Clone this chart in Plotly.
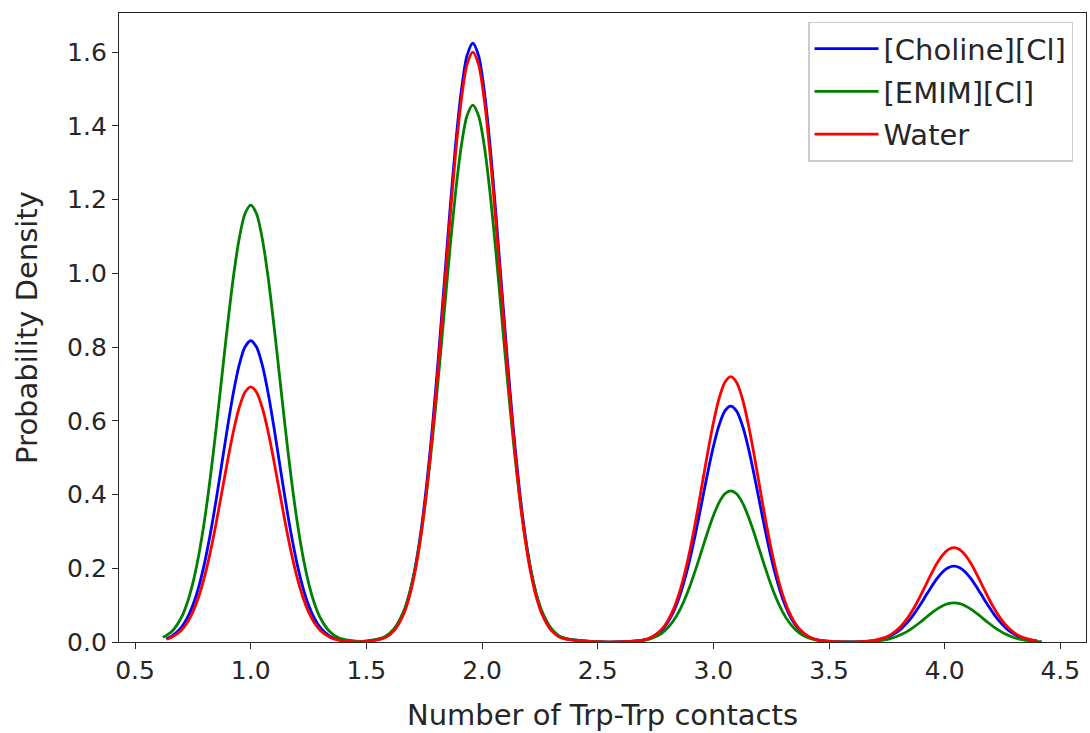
import plotly.graph_objects as go

# Shared interior x grid (number of Trp-Trp contacts)
contacts = [
    0.66, 0.70, 0.725, 0.75, 0.775, 0.80, 0.825, 0.85, 0.875, 0.90, 0.925, 0.95, 0.975, 1.00,
    1.025, 1.05, 1.075, 1.10, 1.125, 1.15, 1.175, 1.20, 1.225, 1.25, 1.275, 1.30, 1.34, 1.38,
    1.48,
    1.58, 1.62, 1.66, 1.685, 1.71, 1.735, 1.76, 1.785, 1.81, 1.835, 1.86, 1.885, 1.91, 1.935, 1.96,
    1.985, 2.01, 2.035, 2.06, 2.085, 2.11, 2.135, 2.16, 2.185, 2.21, 2.235, 2.26, 2.30, 2.34,
    2.52,
    2.695, 2.735, 2.775, 2.80, 2.825, 2.85, 2.875, 2.90, 2.925, 2.95, 2.975, 3.00, 3.025, 3.05, 3.075,
    3.10, 3.125, 3.15, 3.175, 3.20, 3.225, 3.25, 3.275, 3.30, 3.325, 3.35, 3.375, 3.415, 3.455,
    3.56,
    3.66, 3.70, 3.74, 3.765, 3.79, 3.815, 3.84, 3.865, 3.89, 3.915, 3.94, 3.965, 3.99, 4.015, 4.04,
    4.065, 4.09, 4.115, 4.14, 4.165, 4.19, 4.215, 4.24, 4.265, 4.29, 4.315, 4.34, 4.38,
]

# Curve end points per series (x) and their densities
choline_edges_x = [0.634, 4.40]
choline_edges_y = [0.0091, 0.0026]
emim_edges_x = [0.62, 4.42]
emim_edges_y = [0.0125, 0.0010]
water_edges_x = [0.637, 4.40]
water_edges_y = [0.0077, 0.0031]

choline = [
    0.0168, 0.0397, 0.0644, 0.1001, 0.1491, 0.2132, 0.2920, 0.3837, 0.4833, 0.5839, 0.6763, 0.7512, 0.8000, 0.817,
    0.8000, 0.7512, 0.6763, 0.5839, 0.4833, 0.3837, 0.2920, 0.2132, 0.1491, 0.1001, 0.0644, 0.0397, 0.0168, 0.0064,
    0.0011,
    0.0127, 0.0335, 0.0790, 0.1280, 0.1989, 0.2964, 0.4237, 0.5804, 0.7626, 0.9608, 1.1607, 1.3443, 1.4931, 1.5902, 1.624,
    1.5902, 1.4931, 1.3443, 1.1607, 0.9608, 0.7626, 0.5804, 0.4237, 0.2964, 0.1989, 0.1280, 0.0790, 0.0335, 0.0127,
    0.0001,
    0.0050, 0.0132, 0.0311, 0.0504, 0.0784, 0.1168, 0.1670, 0.2287, 0.3005, 0.3786, 0.4574, 0.5298, 0.5884, 0.6267, 0.640,
    0.6267, 0.5884, 0.5298, 0.4574, 0.3786, 0.3005, 0.2287, 0.1670, 0.1168, 0.0784, 0.0504, 0.0311, 0.0132, 0.0050,
    0.0001,
    0.0016, 0.0042, 0.0100, 0.0162, 0.0252, 0.0376, 0.0537, 0.0736, 0.0967, 0.1219, 0.1472, 0.1705, 0.1894, 0.2017, 0.206,
    0.2017, 0.1894, 0.1705, 0.1472, 0.1219, 0.0967, 0.0736, 0.0537, 0.0376, 0.0252, 0.0162, 0.0100, 0.0042,
]

emim = [
    0.0293, 0.0665, 0.1053, 0.1603, 0.2345, 0.3294, 0.4447, 0.5769, 0.7187, 0.8604, 0.9898, 1.0939, 1.1615, 1.185,
    1.1615, 1.0939, 0.9898, 0.8604, 0.7187, 0.5769, 0.4447, 0.3294, 0.2345, 0.1603, 0.1053, 0.0665, 0.0293, 0.0117,
    0.0017,
    0.0144, 0.0360, 0.0817, 0.1294, 0.1970, 0.2881, 0.4048, 0.5464, 0.7088, 0.8831, 1.0572, 1.2162, 1.3440, 1.4272, 1.456,
    1.4272, 1.3440, 1.2162, 1.0572, 0.8831, 0.7088, 0.5464, 0.4048, 0.2881, 0.1970, 0.1294, 0.0817, 0.0360, 0.0143,
    0.0001,
    0.0040, 0.0101, 0.0230, 0.0364, 0.0555, 0.0811, 0.1140, 0.1539, 0.1996, 0.2487, 0.2977, 0.3425, 0.3785, 0.4019, 0.410,
    0.4019, 0.3785, 0.3425, 0.2977, 0.2487, 0.1996, 0.1539, 0.1140, 0.0811, 0.0555, 0.0364, 0.0230, 0.0101, 0.0040,
    0.0001,
    0.0010, 0.0026, 0.0059, 0.0094, 0.0143, 0.0210, 0.0295, 0.0398, 0.0516, 0.0643, 0.0770, 0.0885, 0.0978, 0.1039, 0.106,
    0.1039, 0.0978, 0.0885, 0.0770, 0.0643, 0.0516, 0.0398, 0.0295, 0.0210, 0.0143, 0.0094, 0.0059, 0.0026,
]

water = [
    0.0134, 0.0320, 0.0523, 0.0819, 0.1228, 0.1765, 0.2432, 0.3209, 0.4059, 0.4918, 0.5710, 0.6354, 0.6774, 0.692,
    0.6774, 0.6354, 0.5710, 0.4918, 0.4059, 0.3209, 0.2432, 0.1765, 0.1228, 0.0819, 0.0523, 0.0320, 0.0134, 0.0050,
    0.0009,
    0.0115, 0.0309, 0.0740, 0.1210, 0.1893, 0.2840, 0.4082, 0.5622, 0.7421, 0.9384, 1.1371, 1.3203, 1.4691, 1.5662, 1.600,
    1.5662, 1.4691, 1.3203, 1.1371, 0.9384, 0.7421, 0.5622, 0.4082, 0.2840, 0.1893, 0.1210, 0.0740, 0.0309, 0.0115,
    0.0001,
    0.0052, 0.0139, 0.0333, 0.0544, 0.0852, 0.1278, 0.1837, 0.2530, 0.3339, 0.4223, 0.5117, 0.5941, 0.6611, 0.7048, 0.720,
    0.7048, 0.6611, 0.5941, 0.5117, 0.4223, 0.3339, 0.2530, 0.1837, 0.1278, 0.0852, 0.0544, 0.0333, 0.0139, 0.0052,
    0.0001,
    0.0018, 0.0049, 0.0118, 0.0194, 0.0303, 0.0454, 0.0653, 0.0900, 0.1187, 0.1501, 0.1819, 0.2113, 0.2351, 0.2506, 0.256,
    0.2506, 0.2351, 0.2113, 0.1819, 0.1501, 0.1187, 0.0900, 0.0653, 0.0454, 0.0303, 0.0194, 0.0118, 0.0049,
]

series_names = ["[Choline][Cl]", "[EMIM][Cl]", "Water"]
series_colors = ["#0000ff", "#008000", "#ff0000"]
x_tick_vals = [0.5, 1.0, 1.5, 2.0, 2.5, 3.0, 3.5, 4.0, 4.5]
y_tick_vals = [0.0, 0.2, 0.4, 0.6, 0.8, 1.0, 1.2, 1.4, 1.6]

series = [
    (choline, choline_edges_x, choline_edges_y),
    (emim, emim_edges_x, emim_edges_y),
    (water, water_edges_x, water_edges_y),
]

fig = go.Figure()
for (vals, ex, ey), name, color in zip(series, series_names, series_colors):
    xs = [ex[0]] + contacts + [ex[1]]
    ys = [ey[0]] + vals + [ey[1]]
    fig.add_trace(go.Scatter(
        x=xs, y=ys, mode="lines", name=name, legendgroup=name,
        line=dict(color=color, width=2.8, shape="spline", smoothing=0.8),
    ))

axis_color = "#262626"
font_family = "DejaVu Sans"

fig.update_layout(
    width=1090, height=733,
    margin=dict(l=119, r=4, t=13, b=91, autoexpand=False),
    paper_bgcolor="white", plot_bgcolor="white",
    font=dict(family=font_family, size=25, color=axis_color),
    showlegend=True,
    legend=dict(
        x=0.9866, y=0.986, xanchor="right", yanchor="top",
        bgcolor="rgba(255,255,255,0.8)", bordercolor="#cccccc", borderwidth=1.5,
        font=dict(family=font_family, size=29, color=axis_color),
        tracegroupgap=2, traceorder="grouped",
        itemwidth=64,
    ),
    xaxis=dict(
        range=[0.4305, 4.611], tickvals=x_tick_vals, tickformat=".1f",
        showline=True, linecolor=axis_color, linewidth=1.3, mirror=True,
        ticks="outside", ticklen=6, tickwidth=1.3, tickcolor=axis_color,
        showgrid=False, zeroline=False,
        tickfont=dict(size=25),
        title=dict(text="Number of Trp-Trp contacts", font=dict(size=29), standoff=20),
    ),
    yaxis=dict(
        range=[0, 1.706], tickvals=y_tick_vals, tickformat=".1f",
        showline=True, linecolor=axis_color, linewidth=1.3, mirror=True,
        ticks="outside", ticklen=6, tickwidth=1.3, tickcolor=axis_color,
        showgrid=False, zeroline=False,
        tickfont=dict(size=25),
        title=dict(text="Probability Density", font=dict(size=29), standoff=20),
    ),
)

fig.write_html("out.html", config={"displayModeBar": False},
               post_script="document.body.style.margin='0px';")
